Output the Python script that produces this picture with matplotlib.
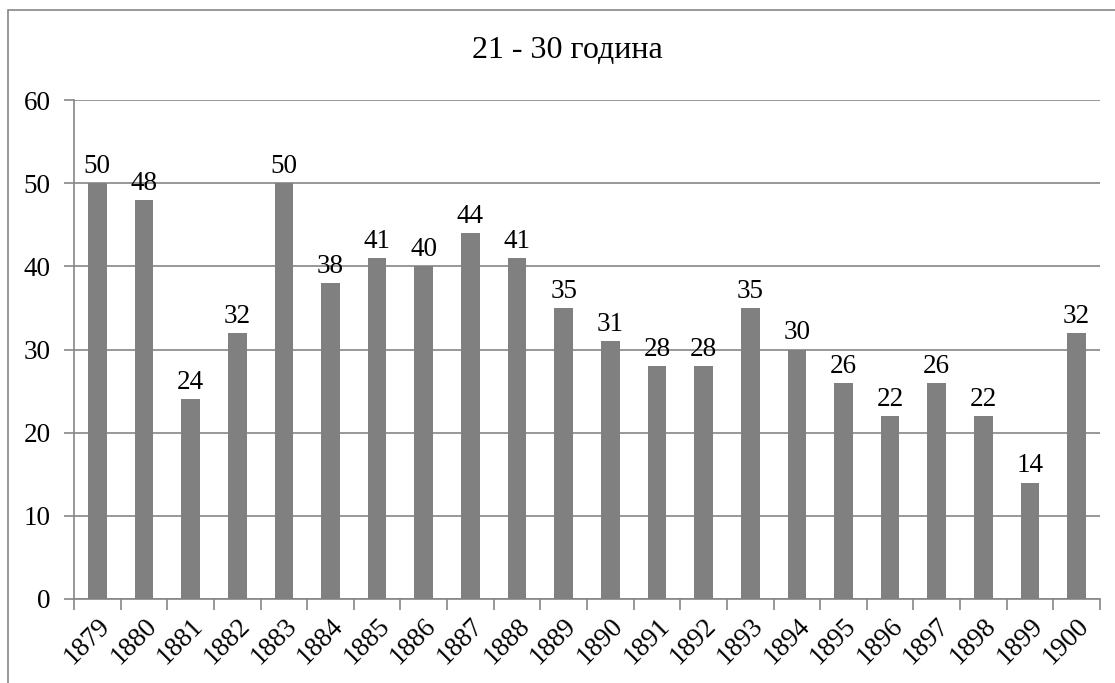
import matplotlib
matplotlib.use("Agg")
import matplotlib.pyplot as plt
from matplotlib.patches import Rectangle

years = [str(y) for y in range(1879, 1901)]
values = [50, 48, 24, 32, 50, 38, 41, 40, 44, 41, 35, 31, 28, 28, 35, 30, 26, 22, 26, 22, 14, 32]
title = "21 - 30 година"

plt.rcParams['font.family'] = ['Liberation Serif', 'DejaVu Serif']
fig = plt.figure(figsize=(11.15, 6.83), dpi=100)
W, H = 1115, 683
ax = fig.add_axes([74 / W, 1 - 599 / H, (1100 - 74) / W, (599 - 100) / H])

FS = 19.5
x = list(range(len(years)))
ax.bar(x, values, width=0.4, color='#808080', zorder=3)
for xi, v in zip(x, values):
    ax.annotate(str(v), (xi, v), xytext=(0, 3), textcoords='offset points',
                ha='center', va='bottom', fontsize=FS)

ax.set_xlim(-0.5, len(years) - 0.5)
ax.set_ylim(0, 60)
ax.set_yticks(range(0, 61, 10))
ax.yaxis.grid(True, color='#868686', linewidth=1.2, zorder=0)
ax.set_xticks([i - 0.5 for i in range(len(years) + 1)], minor=False)
ax.set_xticklabels([''] * (len(years) + 1))
ax.set_xticks(x, minor=True)
ax.set_xticklabels(years, minor=True, rotation=45, ha='right', va='top',
                   rotation_mode='anchor', fontsize=FS)
ax.tick_params(axis='x', which='minor', length=0, pad=10)
ax.tick_params(axis='x', which='major', length=8, color='#868686', width=1.2)
ax.tick_params(axis='y', length=7, color='#868686', width=1.2, labelsize=FS, pad=10)
for s in ['top', 'right']:
    ax.spines[s].set_visible(False)
for s in ['left', 'bottom']:
    ax.spines[s].set_color('#868686')
    ax.spines[s].set_linewidth(1.2)

fig.text(567 / W, 1 - 50 / H, title, ha='center', va='center', fontsize=23)

fig.patches.append(Rectangle((8 / W, -0.1), 1.2, 1 - 10 / H + 0.1, transform=fig.transFigure,
                             fill=False, edgecolor='#868686', linewidth=1.2))

fig.savefig('out.png', dpi=100)
